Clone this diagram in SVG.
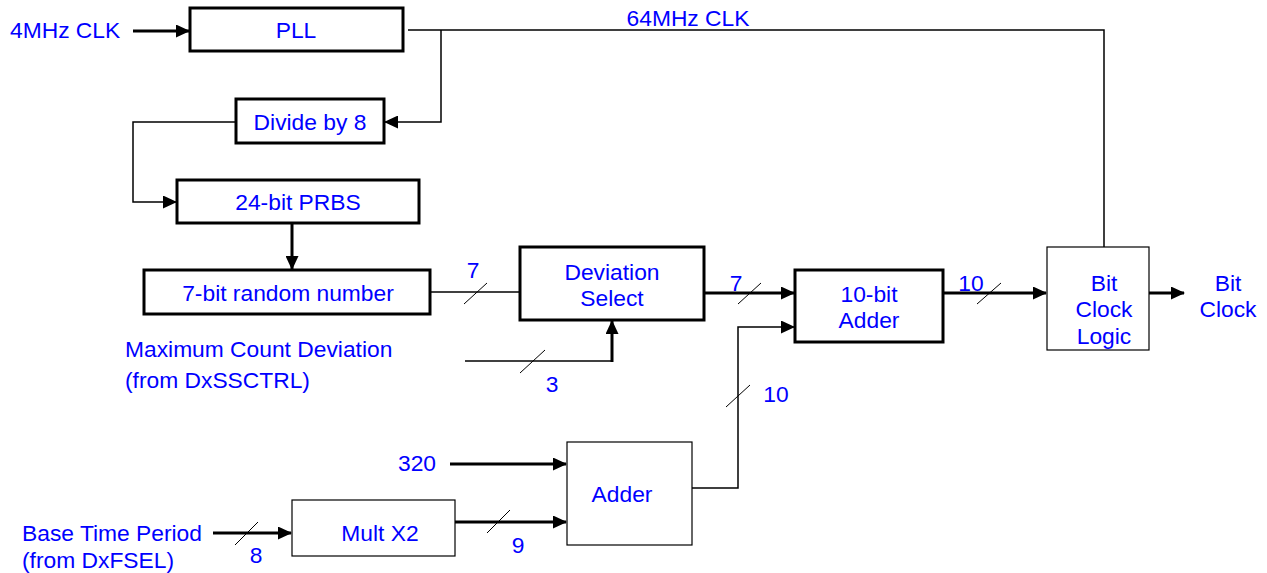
<svg xmlns="http://www.w3.org/2000/svg" width="1267" height="573" viewBox="0 0 1267 573">
<style>
.t{font-family:"Liberation Sans",Arial,sans-serif;font-size:22.8px;fill:#0000ff}
.c{text-anchor:middle}
.bk{fill:#fff;stroke:#000;stroke-width:3}
.bn{fill:#fff;stroke:#000;stroke-width:1.2}
.w{fill:none;stroke:#000;stroke-width:1.5}
.wt{fill:none;stroke:#000;stroke-width:3}
.s{stroke:#000;stroke-width:1}
</style>
<defs>
<marker id="ah" markerWidth="14" markerHeight="13" refX="13" refY="6.5" orient="auto" markerUnits="userSpaceOnUse">
<path d="M0,0 L14,6.5 L0,13 Z" fill="#000"/>
</marker>
</defs>
<g id="connectors">
<path class="wt" d="M133,31 H189" marker-end="url(#ah)"/>
<path class="w" d="M408,30 H1104 V247"/>
<path class="w" d="M441,30 V122 H385" marker-end="url(#ah)"/>
<path class="w" d="M236,122 H133 V202 H176" marker-end="url(#ah)"/>
<path class="wt" d="M292,223 V269" marker-end="url(#ah)"/>
<path class="w" d="M430,292 H520"/>
<line class="s" x1="464" y1="304" x2="487" y2="283"/>
<path class="wt" d="M704,293 H794" marker-end="url(#ah)"/>
<line class="s" x1="738" y1="304" x2="761" y2="283"/>
<path class="w" d="M465,361 H612"/>
<path class="wt" d="M612,362 V321" marker-end="url(#ah)"/>
<line class="s" x1="520" y1="373" x2="545" y2="350"/>
<path class="w" d="M692,488 H738 V327 H794" marker-end="url(#ah)"/>
<line class="s" x1="726" y1="407" x2="750" y2="385"/>
<path class="wt" d="M943,293 H1046" marker-end="url(#ah)"/>
<line class="s" x1="977" y1="304" x2="1001" y2="283"/>
<path class="wt" d="M1149,293 H1184" marker-end="url(#ah)"/>
<path class="wt" d="M450,464 H566" marker-end="url(#ah)"/>
<path class="wt" d="M455,522 H566" marker-end="url(#ah)"/>
<line class="s" x1="487" y1="533" x2="510" y2="510"/>
<path class="wt" d="M213,533 H291" marker-end="url(#ah)"/>
<line class="s" x1="235" y1="545" x2="258" y2="522"/>
</g>
<g id="pll"><rect class="bk" x="190" y="8" width="213" height="43"/><text class="t c" x="296" y="38">PLL</text></g>
<g id="div8"><rect class="bk" x="236" y="99" width="148" height="44"/><text class="t c" x="310" y="130">Divide by 8</text></g>
<g id="prbs"><rect class="bk" x="177" y="180" width="242" height="43"/><text class="t c" x="298" y="210">24-bit PRBS</text></g>
<g id="rand7"><rect class="bk" x="144" y="270" width="286" height="44"/><text class="t c" x="288" y="301">7-bit random number</text></g>
<g id="devsel"><rect class="bk" x="520" y="247" width="184" height="73"/><text class="t c" x="612" y="280">Deviation</text><text class="t c" x="612" y="306">Select</text></g>
<g id="adder10"><rect class="bk" x="795" y="270" width="148" height="72"/><text class="t c" x="869" y="302">10-bit</text><text class="t c" x="869" y="328">Adder</text></g>
<g id="bcl"><rect class="bn" x="1047" y="247" width="102" height="103"/><text class="t c" x="1104" y="291">Bit</text><text class="t c" x="1104" y="317">Clock</text><text class="t c" x="1104" y="344">Logic</text></g>
<g id="adder"><rect class="bn" x="567" y="442" width="125" height="103"/><text class="t c" x="622" y="502">Adder</text></g>
<g id="mult"><rect class="bn" x="292" y="500" width="163" height="56"/><text class="t c" x="380" y="541">Mult X2</text></g>
<g id="labels">
<text class="t" x="10" y="38">4MHz CLK</text>
<text class="t c" x="688" y="26">64MHz CLK</text>
<text class="t c" x="473" y="278">7</text>
<text class="t c" x="736" y="291">7</text>
<text class="t c" x="971" y="291">10</text>
<text class="t c" x="1228" y="291">Bit</text>
<text class="t c" x="1228" y="317">Clock</text>
<text class="t" x="125" y="357">Maximum Count Deviation</text>
<text class="t" x="125" y="388">(from DxSSCTRL)</text>
<text class="t c" x="552" y="392">3</text>
<text class="t c" x="776" y="402">10</text>
<text class="t c" x="417" y="471">320</text>
<text class="t c" x="518" y="553">9</text>
<text class="t" x="22" y="541">Base Time Period</text>
<text class="t" x="22" y="568">(from DxFSEL)</text>
<text class="t c" x="256" y="563">8</text>
</g>
</svg>
